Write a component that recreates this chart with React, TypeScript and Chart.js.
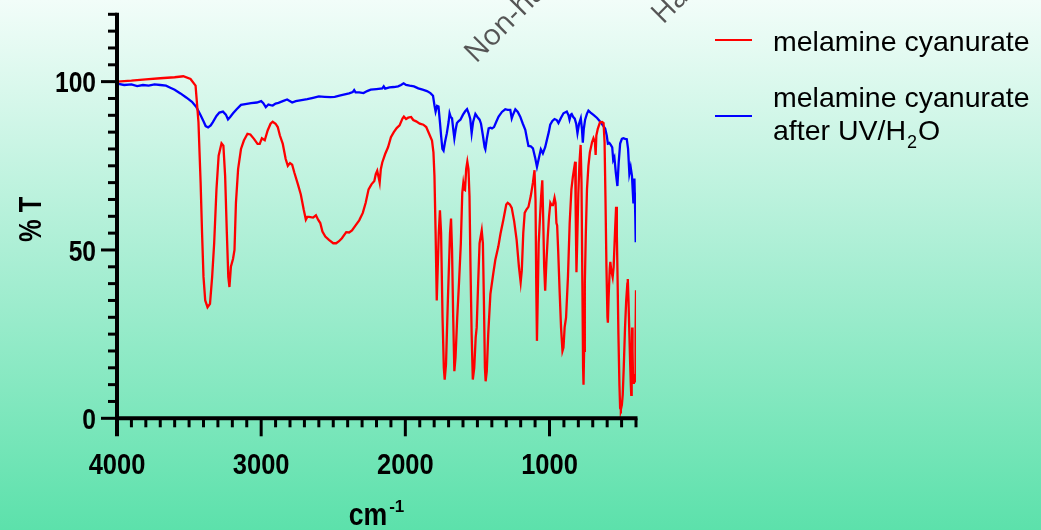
import React, { useEffect, useRef } from "react";
import { Chart, registerables } from "chart.js";

Chart.register(...registerables);

// ---- data (wavenumber cm-1, % transmittance) ----
const RED_WN = [4000, 3900, 3800, 3700, 3600, 3540, 3490, 3455, 3435, 3420, 3410, 3400, 3388, 3372, 3355, 3340, 3326, 3310, 3295, 3275, 3262, 3250, 3238, 3228, 3220, 3210, 3195, 3185, 3175, 3160, 3140, 3120, 3095, 3075, 3050, 3025, 3010, 2995, 2975, 2955, 2935, 2920, 2900, 2885, 2870, 2850, 2830, 2815, 2800, 2785, 2770, 2745, 2725, 2705, 2690, 2680, 2668, 2640, 2620, 2605, 2590, 2575, 2555, 2530, 2500, 2480, 2460, 2440, 2410, 2390, 2370, 2345, 2320, 2295, 2275, 2255, 2235, 2215, 2205, 2195, 2185, 2178, 2170, 2160, 2140, 2120, 2100, 2080, 2060, 2040, 2020, 2010, 1995, 1980, 1960, 1945, 1925, 1900, 1875, 1855, 1835, 1815, 1805, 1798, 1790, 1782, 1775, 1768, 1760, 1752, 1742, 1733, 1727, 1718, 1705, 1690, 1683, 1676, 1668, 1660, 1652, 1640, 1628, 1615, 1605, 1598, 1592, 1586, 1578, 1570, 1562, 1555, 1548, 1540, 1532, 1522, 1512, 1505, 1495, 1485, 1470, 1462, 1455, 1448, 1443, 1435, 1425, 1410, 1390, 1376, 1355, 1340, 1320, 1300, 1290, 1275, 1262, 1245, 1228, 1212, 1200, 1192, 1182, 1172, 1160, 1146, 1130, 1115, 1104, 1097, 1092, 1087, 1082, 1075, 1069, 1058, 1050, 1044, 1037, 1030, 1022, 1012, 1003, 994, 985, 976, 965, 958, 952, 947, 940, 930, 920, 910, 903, 895, 885, 872, 860, 848, 838, 830, 822, 818, 813, 808, 800, 792, 784, 778, 772, 767, 764, 760, 755, 748, 740, 730, 720, 705, 695, 685, 680, 675, 665, 650, 635, 625, 618, 612, 605, 598, 595, 590, 582, 578, 572, 562, 555, 545, 538, 533, 528, 522, 515, 510, 505, 498, 492, 485, 476, 468, 460, 457, 452, 446, 441, 436, 433, 430, 427, 424, 420, 415, 410, 406, 403, 400];
const RED_T = [100.0, 100.3, 100.7, 101.0, 101.3, 101.6, 100.8, 98.8, 88, 70, 55, 42, 35, 33, 34, 42, 52, 68, 78, 81.7, 81, 72, 55, 42, 39, 45, 47.4, 50, 64, 74, 80, 82.5, 84.5, 84.3, 83, 81.5, 81.5, 83.2, 82.6, 85.5, 87.5, 88.1, 87.5, 86.5, 84, 81.5, 77, 75, 75.8, 75.3, 73, 69.5, 66.5, 62, 59, 59.8, 59.8, 59.6, 60.3, 59, 58, 55.5, 54, 53, 52, 52, 52.6, 53.5, 55.3, 55.2, 55.8, 57.3, 58.8, 61, 64, 68, 69.5, 70.5, 72.5, 73.5, 71.5, 70, 74, 76, 78.5, 80.5, 83.5, 85, 86.2, 87, 89, 89.6, 88.9, 89.3, 89.5, 88.6, 88.2, 87.5, 87.2, 86.5, 84.5, 82.5, 79, 72, 55, 35, 45, 55, 61.8, 55, 30, 15, 11.5, 16, 35, 55, 59.3, 50, 30, 14, 18, 30, 40, 52, 67, 69.8, 68, 67.8, 74, 76.2, 74, 66, 45, 25, 11.5, 15, 24, 27, 40, 52, 55.8, 52, 35, 15, 11, 14, 25, 36.9, 43, 47, 51, 54.8, 59, 63.5, 64, 63.5, 62.5, 58.5, 53, 45, 40.4, 44, 55, 61, 62, 62.8, 66, 70, 73.7, 65, 40, 23, 35, 52, 57, 66, 70.7, 60, 45, 37.9, 46, 54, 60, 64, 63.3, 63.3, 65.5, 64, 58, 57.3, 50, 38, 27, 20, 21, 27, 30, 42, 58, 68, 71.7, 74, 76.2, 60, 43.4, 52, 66.8, 76, 81.2, 70, 40, 15, 10, 20, 40, 55, 68, 75, 79, 82, 83.2, 82, 78.2, 84, 86, 87.9, 88, 87.7, 82, 66, 45, 30, 28.4, 36, 44.5, 46.5, 44, 41.9, 45, 56, 62.8, 55, 42, 25, 10, 3, 2.6, 4, 7, 15, 27, 35, 40, 41.4, 35, 25, 17, 10, 7, 15, 27, 20, 10.5, 11, 12, 11, 25, 38];

const BLUE_WN = [4000, 3950, 3900, 3860, 3820, 3780, 3740, 3700, 3660, 3630, 3600, 3560, 3520, 3480, 3450, 3420, 3400, 3385, 3368, 3350, 3335, 3310, 3290, 3265, 3245, 3230, 3215, 3195, 3170, 3140, 3100, 3070, 3030, 3000, 2985, 2968, 2950, 2935, 2920, 2900, 2880, 2850, 2820, 2805, 2785, 2760, 2720, 2680, 2640, 2600, 2560, 2520, 2490, 2450, 2420, 2390, 2365, 2355, 2345, 2320, 2290, 2265, 2240, 2200, 2160, 2150, 2140, 2110, 2080, 2050, 2030, 2012, 1995, 1970, 1940, 1910, 1880, 1850, 1826, 1808, 1798, 1790, 1780, 1770, 1760, 1752, 1743, 1735, 1725, 1712, 1700, 1693, 1685, 1676, 1668, 1660, 1650, 1642, 1630, 1618, 1600, 1585, 1572, 1560, 1550, 1540, 1530, 1514, 1500, 1485, 1475, 1462, 1450, 1445, 1435, 1422, 1410, 1399, 1385, 1370, 1353, 1330, 1307, 1290, 1272, 1262, 1255, 1237, 1220, 1203, 1185, 1168, 1156, 1146, 1130, 1115, 1100, 1087, 1075, 1060, 1046, 1030, 1018, 1005, 995, 980, 965, 950, 938, 920, 903, 880, 868, 861, 852, 846, 835, 825, 815, 806, 795, 783, 775, 769, 762, 753, 740, 730, 715, 695, 670, 648, 630, 614, 603, 595, 585, 575, 565, 558, 550, 540, 529, 520, 510, 498, 488, 475, 464, 455, 446, 437, 428, 418, 411, 405, 402, 400];
const BLUE_T = [99.4, 99.0, 99.2, 98.7, 99.0, 98.8, 99.2, 99.0, 98.8, 98.2, 97.6, 96.5, 95.3, 94.0, 92.5, 90.0, 88.2, 86.8, 86.4, 87, 88, 89.8, 90.8, 91.1, 90.2, 88.8, 89.5, 90.6, 91.8, 93.1, 93.4, 93.6, 93.8, 94.2, 93.6, 92.4, 93.2, 93.0, 92.9, 93.5, 93.7, 94.2, 94.7, 94.3, 93.8, 94.2, 94.5, 94.8, 95.2, 95.6, 95.5, 95.4, 95.5, 95.9, 96.2, 96.5, 96.9, 97.5, 96.8, 96.8, 96.6, 97.2, 97.6, 97.8, 98.0, 98.6, 97.9, 98.3, 98.4, 98.6, 99.0, 99.5, 99.0, 98.8, 98.6, 98.0, 97.6, 97.2, 96.6, 95.8, 93, 91.1, 92.8, 92.6, 88, 84, 80, 79.5, 82, 84.7, 88, 90.6, 89.5, 89.1, 86, 83.2, 86, 87.7, 88.3, 88.7, 90.2, 91.2, 91.8, 90.5, 89, 84.7, 88, 90.4, 89.5, 88.7, 87.5, 84, 80.5, 79.9, 83, 86.1, 86.3, 86.1, 86.5, 88, 89.6, 91, 91.8, 91.6, 91.6, 89.1, 90, 91.8, 91, 89.6, 87.5, 85.7, 83, 80.9, 80.8, 80.2, 77.5, 74.7, 77, 79.9, 78.7, 80.5, 82.7, 85, 87.2, 88.3, 88.9, 88.6, 87.7, 89.3, 90.6, 91.1, 90, 88.7, 90.2, 90.4, 89.5, 89, 87.5, 84.7, 87.5, 89.1, 86, 81.9, 86, 88.7, 90.5, 91.4, 90.8, 90.1, 89.2, 88.1, 87, 86.1, 84, 81.6, 81.8, 81.2, 80.5, 76.7, 77.5, 73, 69, 76, 81.6, 83, 83.2, 83.0, 82.9, 80, 72.7, 74.6, 72, 63.8, 71.2, 60, 52.3, 67];

const X_TICKS = [4000, 3000, 2000, 1000];
const Y_TICKS = [0, 50, 100];
const X_MIN = 400;
const X_MAX = 4000;
const Y_MIN = 0;
const Y_MAX = 120;
const SERIES_1 = "melamine cyanurate";
const SERIES_2_LINE1 = "melamine cyanurate";
const SERIES_2_LINE2 = "after UV/H";
const SERIES_2_SUB = "2";
const SERIES_2_END = "O";
const Y_TITLE = "% T";
const X_TITLE = "cm";
const X_TITLE_SUP = "-1";
const WATERMARKS = ["Non-hazardous", "Hazardous"];

const SANS = "'Liberation Sans', Arial, sans-serif";
const SQUEEZE = 0.82;
const SQUEEZE_X = 0.85;

const decorPlugin = {
  id: "decor",
  afterDatasetsDraw(chart: any) {
    const { ctx, scales } = chart;
    const x = scales.x;
    const y = scales.y;
    const x0 = x.getPixelForValue(X_MAX);
    const xEnd = x.getPixelForValue(X_MIN);
    const y0 = y.getPixelForValue(Y_MIN);
    const yTop = y.getPixelForValue(Y_MAX);
    ctx.save();
    ctx.strokeStyle = "#000";
    ctx.lineCap = "butt";
    const seg = (a: number, b: number, c: number, d: number) => {
      ctx.beginPath();
      ctx.moveTo(a, b);
      ctx.lineTo(c, d);
      ctx.stroke();
    };
    ctx.lineWidth = 3;
    for (let v = Y_MIN; v <= Y_MAX; v += 5) {
      const p = y.getPixelForValue(v);
      const L = v % 50 === 0 ? 16 : 9;
      seg(x0 - L, p, x0, p);
    }
    for (let v = X_MIN; v < X_MAX; v += 100) {
      const p = x.getPixelForValue(v);
      const L = v % 1000 === 0 ? 18 : 9;
      seg(p, y0, p, y0 + L);
    }
    ctx.lineWidth = 4;
    seg(x0, yTop - 1.5, x0, y0 + 18);
    seg(x0 - 1, y0, xEnd + 1.5, y0);
    ctx.restore();
  },
  afterDraw(chart: any) {
    const { ctx, scales } = chart;
    const x = scales.x;
    const y = scales.y;
    const x0 = x.getPixelForValue(X_MAX);
    const y0 = y.getPixelForValue(Y_MIN);
    ctx.save();
    ctx.fillStyle = "#000";
    ctx.textBaseline = "alphabetic";
    ctx.textAlign = "left";

    // tick labels (condensed bold)
    ctx.font = `bold 30px ${SANS}`;
    Y_TICKS.forEach((v) => {
      const t = String(v);
      const w = ctx.measureText(t).width * SQUEEZE;
      const p = y.getPixelForValue(v);
      ctx.save();
      ctx.translate(x0 - 21 - w, p + 10.8);
      ctx.scale(SQUEEZE, 1);
      ctx.fillText(t, 0, 0);
      ctx.restore();
    });
    X_TICKS.forEach((v) => {
      const t = String(v);
      const w = ctx.measureText(t).width * SQUEEZE_X;
      const p = x.getPixelForValue(v);
      ctx.save();
      ctx.translate(p - w / 2, y0 + 56);
      ctx.scale(SQUEEZE_X, 1);
      ctx.fillText(t, 0, 0);
      ctx.restore();
    });

    // y title (rotated, condensed)
    ctx.font = `bold 31px ${SANS}`;
    const wy = ctx.measureText(Y_TITLE).width * SQUEEZE;
    const cyT = (y.getPixelForValue(Y_MAX) + y0) / 2 + 3;
    ctx.save();
    ctx.translate(41, cyT + wy / 2);
    ctx.rotate(-Math.PI / 2);
    ctx.scale(SQUEEZE, 1);
    ctx.fillText(Y_TITLE, 0, 0);
    ctx.restore();

    // x title with superscript
    const cx = (x0 + x.getPixelForValue(X_MIN)) / 2;
    const sq2 = 0.86;
    ctx.font = `bold 31px ${SANS}`;
    const w1 = ctx.measureText(X_TITLE).width * sq2;
    ctx.font = `bold 17px ${SANS}`;
    const w2 = ctx.measureText(X_TITLE_SUP).width;
    const sx = cx - (w1 + w2 + 2) / 2;
    ctx.font = `bold 31px ${SANS}`;
    ctx.save();
    ctx.translate(sx, 525);
    ctx.scale(sq2, 1);
    ctx.fillText(X_TITLE, 0, 0);
    ctx.restore();
    ctx.font = `bold 17px ${SANS}`;
    ctx.fillText(X_TITLE_SUP, sx + w1 + 2, 512);

    // legend
    ctx.lineWidth = 2;
    ctx.strokeStyle = "#ff0000";
    ctx.beginPath();
    ctx.moveTo(715, 40);
    ctx.lineTo(752, 40);
    ctx.stroke();
    ctx.strokeStyle = "#0000ff";
    ctx.beginPath();
    ctx.moveTo(715, 116);
    ctx.lineTo(752, 116);
    ctx.stroke();
    ctx.fillStyle = "#000";
    ctx.font = `28.5px ${SANS}`;
    ctx.fillText(SERIES_1, 773, 51);
    ctx.fillText(SERIES_2_LINE1, 773, 107);
    ctx.fillText(SERIES_2_LINE2, 773, 140);
    const wA = ctx.measureText(SERIES_2_LINE2).width;
    ctx.font = `18px ${SANS}`;
    ctx.fillText(SERIES_2_SUB, 773 + wA + 1, 148);
    const wB = ctx.measureText(SERIES_2_SUB).width;
    ctx.font = `28.5px ${SANS}`;
    ctx.fillText(SERIES_2_END, 773 + wA + wB + 2, 140);

    // watermark
    ctx.fillStyle = "#555555";
    ctx.font = `29px 'Open Sans', sans-serif`;
    const marks = [
      [476, 64],
      [663, 25],
    ];
    marks.forEach((m, i) => {
      ctx.save();
      ctx.translate(m[0], m[1]);
      ctx.rotate(-Math.PI / 4);
      ctx.fillText(WATERMARKS[i], 0, 0);
      ctx.restore();
    });
    ctx.restore();
  },
};

export default function App() {
  const ref = useRef<HTMLCanvasElement | null>(null);
  useEffect(() => {
    if (!ref.current) return;
    const chart = new Chart(ref.current, {
      type: "line",
      data: {
        datasets: [
          {
            label: SERIES_1,
            data: RED_WN.map((w, i) => ({ x: w, y: RED_T[i] })),
            borderColor: "#ff0000",
            borderWidth: 2.3,
            pointRadius: 0,
            fill: false,
            tension: 0,
          },
          {
            label: SERIES_2_LINE1 + " " + SERIES_2_LINE2 + SERIES_2_SUB + SERIES_2_END,
            data: BLUE_WN.map((w, i) => ({ x: w, y: BLUE_T[i] })),
            borderColor: "#0000ff",
            borderWidth: 2.3,
            pointRadius: 0,
            fill: false,
            tension: 0,
          },
        ],
      },
      options: {
        animation: false,
        responsive: false,
        maintainAspectRatio: false,
        events: [],
        layout: { padding: { left: 0, top: 14.3, right: 1041 - 636, bottom: 0 } },
        plugins: { legend: { display: false }, tooltip: { enabled: false } },
        scales: {
          x: {
            type: "linear",
            reverse: true,
            min: X_MIN,
            max: X_MAX,
            afterBuildTicks: (s: any) => {
              s.ticks = X_TICKS.map((v) => ({ value: v }));
            },
            afterFit: (s: any) => {
              s.height = 530 - 418.3;
              s.paddingLeft = 0;
              s.paddingRight = 0;
            },
            grid: { display: false, drawTicks: false },
            border: { display: false },
            ticks: { display: false },
          },
          y: {
            type: "linear",
            min: Y_MIN,
            max: Y_MAX,
            afterBuildTicks: (s: any) => {
              s.ticks = Y_TICKS.map((v) => ({ value: v }));
            },
            afterFit: (s: any) => {
              s.width = 117;
              s.paddingTop = 0;
              s.paddingBottom = 0;
            },
            grid: { display: false, drawTicks: false },
            border: { display: false },
            ticks: { display: false },
          },
        },
      },
      plugins: [decorPlugin],
    });
    return () => chart.destroy();
  }, []);
  return (
    <div
      style={{
        position: "fixed",
        left: 0,
        top: 0,
        width: 1041,
        height: 530,
        overflow: "hidden",
        background: "linear-gradient(to bottom, #f2fdf9 0%, #a8eed3 50%, #5ce1ab 100%)",
      }}
    >
      <canvas ref={ref} width={1041} height={530} style={{ display: "block", width: 1041, height: 530 }} />
    </div>
  );
}
